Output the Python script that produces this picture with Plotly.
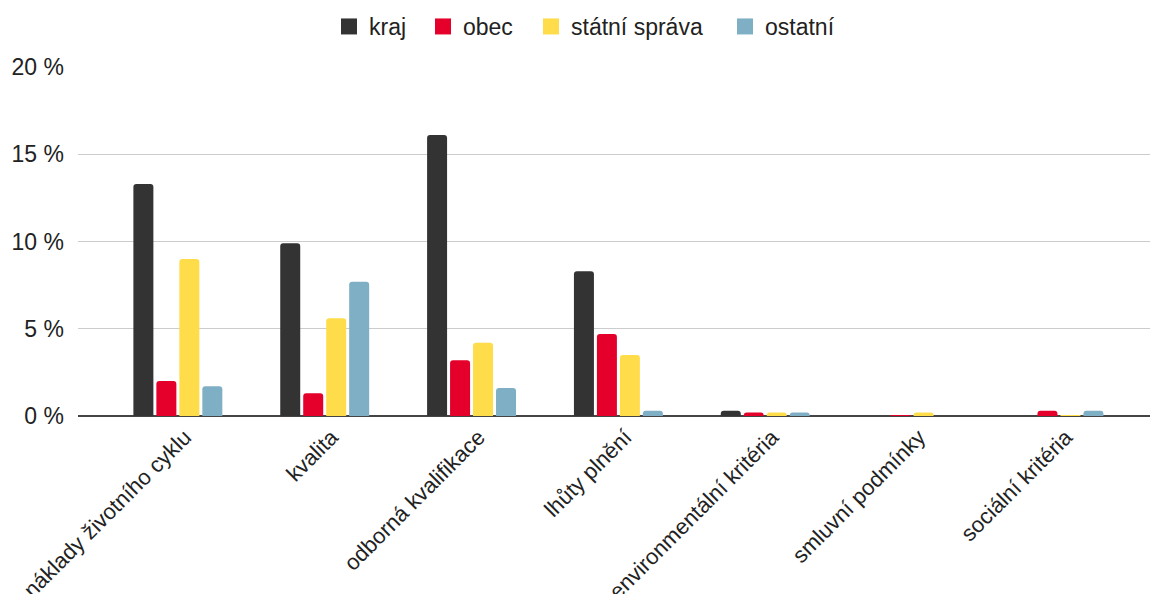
import plotly.graph_objects as go

categories = ["náklady životního cyklu", "kvalita", "odborná kvalifikace", "lhůty plnění",
              "environmentální kritéria", "smluvní podmínky", "sociální kritéria"]
kraj = [13.3, 9.9, 16.1, 8.3, 0.3, 0.0, 0.0]
obec = [2.0, 1.3, 3.2, 4.7, 0.2, 0.04, 0.3]
statni_sprava = [9.0, 5.6, 4.2, 3.5, 0.2, 0.2, 0.04]
ostatni = [1.7, 7.7, 1.6, 0.3, 0.2, 0.0, 0.3]
y_ticks = [0, 5, 10, 15, 20]
y_ticklabels = ["0 %", "5 %", "10 %", "15 %", "20 %"]

series = [
    ("kraj", kraj, "#333333"),
    ("obec", obec, "#E4002B"),
    ("státní správa", statni_sprava, "#FFDC4A"),
    ("ostatní", ostatni, "#7FAFC4"),
]
# legend item left positions (px, container)
legend_x = [329, 423, 531, 725]

FONT = "Liberation Sans, Arial, sans-serif"
fig = go.Figure()
for name, vals, col in series:
    fig.add_trace(go.Bar(x=categories, y=vals, name=name, marker_color=col,
                         marker_line_width=0, showlegend=False, legendgroup=name))
legend_layout = {}
for i, (name, vals, col) in enumerate(series):
    lg = "legend" if i == 0 else f"legend{i+1}"
    fig.add_trace(go.Scatter(x=[None], y=[None], mode="markers", name=name, legendgroup=name,
                             legend=lg, marker=dict(symbol="square", size=18, color=col)))
    legend_layout[lg] = dict(orientation="h", x=legend_x[i] / 1151, xref="container",
                             xanchor="left", y=1.0 - 5 / 594, yref="container", yanchor="top",
                             font=dict(size=23, color="#222222"), itemsizing="trace",
                             bgcolor="rgba(0,0,0,0)")

fig.update_layout(
    width=1151, height=594,
    margin=dict(l=78, r=1, t=67, b=178, autoexpand=False),
    paper_bgcolor="white", plot_bgcolor="white",
    font=dict(family=FONT, size=23, color="#222222"),
    barmode="group", bargap=0.374, bargroupgap=0.13, barcornerradius=3,
    xaxis=dict(range=[-0.68, 6.62], tickangle=-45, tickfont=dict(size=22, color="#222222"),
               showgrid=False, showline=False, ticks="", zeroline=False, automargin=False,
               ticklabelshift=7, ticklabelstandoff=3),
    yaxis=dict(range=[0, 20], tickvals=y_ticks, ticktext=y_ticklabels,
               showgrid=True, gridcolor="#CCCCCC", gridwidth=1,
               zeroline=True, zerolinecolor="#444444", zerolinewidth=2, automargin=False,
               ticks="", ticklabelstandoff=13, showline=False),
    **legend_layout,
)
fig.write_html("out.html", config={"displayModeBar": False},
               post_script="document.body.style.margin='0';")
